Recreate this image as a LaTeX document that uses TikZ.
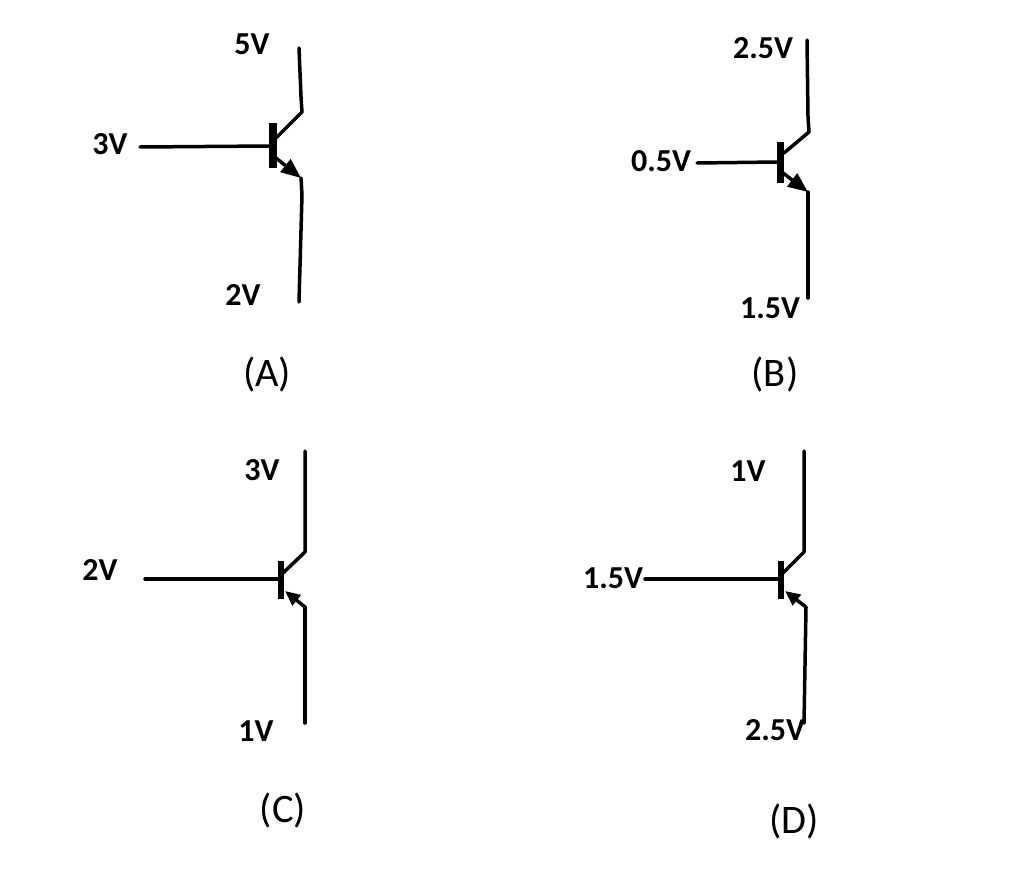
\documentclass[tikz,border=0pt]{standalone}
\usepackage{fontspec}
\setmainfont{Carlito}
\usetikzlibrary{arrows.meta}
\tikzset{
  x=1pt,y=-1pt,
  wire/.style={line width=3.5pt,line cap=round,line join=round,black},
  emitarrow/.style={line width=3.5pt,black,-{Triangle[length=20pt,width=16pt]}},
  emitarrowsmall/.style={line width=3.5pt,black,-{Triangle[length=15pt,width=13pt]}},
  basebar/.style={fill=black,draw=none,inner sep=0pt,minimum width=7.5pt},
  volt/.style={font=\bfseries\fontsize{32}{32}\selectfont,inner sep=0pt},
  tag/.style={font=\fontsize{40.5}{40.5}\selectfont,inner sep=0pt}
}
\begin{document}
\begin{tikzpicture}
\useasboundingbox (0,0) rectangle (1024,880);
% A
\node[basebar,minimum height=45pt] (barA) at (273,145.5) {};
\coordinate (cA1) at (299,48); \coordinate (cA2) at (301,97); \coordinate (cA3) at (302,112); \coordinate (cA4) at (276,138);
\coordinate (bA) at (140,147); \coordinate (bA2) at (270,146);
\coordinate (eA0) at (276,158); \coordinate (eA1) at (301,178); \coordinate (eA2) at (302,195); \coordinate (eA3) at (299,302);
\draw[wire] (cA1)--(cA2)--(cA3)--(cA4);
\draw[wire] (bA)--(bA2);
\draw[emitarrow] (eA0)--(eA1);
\draw[wire] (eA1)--(eA2)--(eA3);
\node[volt] (vA1) at (252,44) {5V};
\node[volt] (vA2) at (110,144) {3V};
\node[volt] (vA3) at (243,295) {2V};
\node[tag] (tA) at (267,374) {(A)};
% B
\node[basebar,minimum height=41pt] (barB) at (780.5,162.5) {};
\coordinate (cB1) at (807,40); \coordinate (cB2) at (808,117); \coordinate (cB3) at (809,132); \coordinate (cB4) at (784,153);
\coordinate (bB) at (697,163); \coordinate (bB2) at (777,162);
\coordinate (eB0) at (783,173); \coordinate (eB1) at (808,192); \coordinate (eB2) at (808,298);
\draw[wire] (cB1)--(cB2)--(cB3)--(cB4);
\draw[wire] (bB)--(bB2);
\draw[emitarrow] (eB0)--(eB1);
\draw[wire] (eB1)--(eB2);
\node[volt] (vB1) at (763,48) {2.5V};
\node[volt] (vB2) at (661,161) {0.5V};
\node[volt] (vB3) at (770,308) {1.5V};
\node[tag] (tB) at (775,374) {(B)};
% C
\node[basebar,minimum height=38pt,minimum width=6.5pt] (barC) at (281,579.5) {};
\coordinate (cC1) at (305,451); \coordinate (cC2) at (305,552); \coordinate (cC3) at (283,573);
\coordinate (bC) at (145,579); \coordinate (bC2) at (278,579);
\coordinate (eC1) at (305,723); \coordinate (eC2) at (305,607); \coordinate (eC3) at (285,591);
\draw[wire] (cC1)--(cC2)--(cC3);
\draw[wire] (bC)--(bC2);
\draw[wire] (eC1)--(eC2);
\draw[emitarrowsmall] (eC2)--(eC3);
\node[volt] (vC1) at (262,470) {3V};
\node[volt] (vC2) at (100,570) {2V};
\node[volt] (vC3) at (256,731) {1V};
\node[tag] (tC) at (283,810) {(C)};
% D
\node[basebar,minimum height=38pt,minimum width=6.5pt] (barD) at (781,579.5) {};
\coordinate (cD1) at (804,451); \coordinate (cD2) at (804,552); \coordinate (cD3) at (783,573);
\coordinate (bD) at (645,579); \coordinate (bD2) at (778,579);
\coordinate (eD1) at (804,723); \coordinate (eD2) at (806,607); \coordinate (eD3) at (785,591);
\draw[wire] (cD1)--(cD2)--(cD3);
\draw[wire] (bD)--(bD2);
\draw[wire] (eD1)--(eD2);
\draw[emitarrowsmall] (eD2)--(eD3);
\node[volt] (vD1) at (748,471) {1V};
\node[volt] (vD2) at (613,578) {1.5V};
\node[volt] (vD3) at (775,730) {2.5V};
\node[tag] (tD) at (794,821) {(D)};
\end{tikzpicture}
\end{document}
